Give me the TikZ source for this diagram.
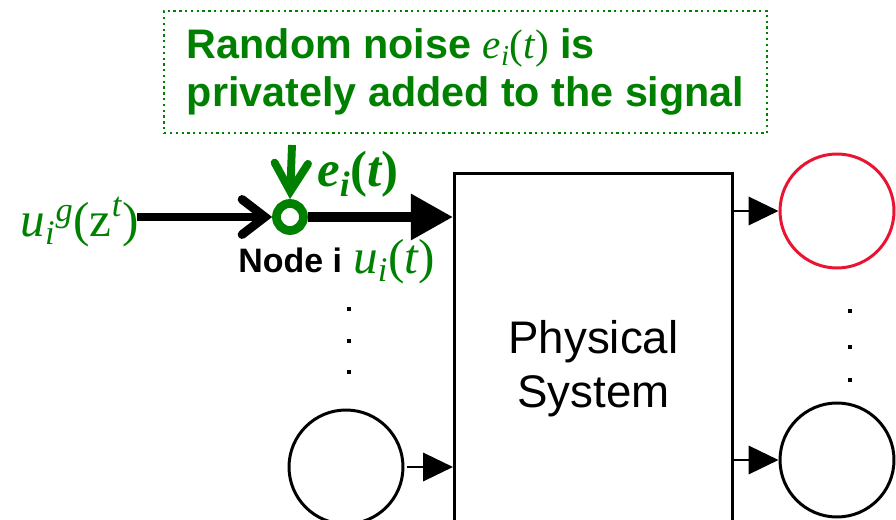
\documentclass[tikz,border=0pt]{standalone}
\usepackage{amsmath}
\usepackage{fontspec}
\setmainfont{Liberation Sans}
\newfontfamily\tms{Liberation Serif}
\usetikzlibrary{positioning,calc}
\usetikzlibrary{arrows.meta}
\definecolor{sigreen}{RGB}{0,128,0}
\definecolor{outred}{RGB}{232,20,50}
\newcommand{\tv}[1]{\text{\tms\itshape #1}}
\newcommand{\tu}[1]{\text{\tms\upshape #1}}

\begin{document}
\begin{tikzpicture}[x=0.02cm, y=-0.02cm,
  bignode/.style={draw, circle, line width=1.7pt, minimum size=2.28cm, inner sep=0pt},
  thinarrow/.style={line width=1.7pt, -{Triangle[length=17pt,width=16pt]}},
  barbarrow/.style={line width=5pt, -{Straight Barb[length=13pt,width=20pt,line cap=round]}},
  lbl/.style={inner sep=0pt, text=sigreen}]
\useasboundingbox (0,0) rectangle (896,520);
% callout
\node [draw=sigreen, dotted, line width=1.3pt, anchor=north west, minimum width=12.06cm, minimum height=2.44cm, align=left, text=sigreen, font=\fontsize{23.5}{27.5}\selectfont\bfseries] (note) at (163,10) {\raisebox{0pt}[\height][0pt]{Random noise $\tv{\mdseries e}_{\tv{\mdseries i}}\tu{\mdseries (}\tv{\mdseries t}\tu{\mdseries )}$ is}\\privately added to the signal};
% system
\node [draw, line width=1.7pt, anchor=north west, minimum width=5.56cm, minimum height=7.8cm, align=center, font=\fontsize{26}{30.6}\selectfont] (sys) at (453,172) {Physical\\System};
% nodes
\node [draw=sigreen, circle, line width=5pt, minimum size=0.54cm, inner sep=0pt] (sum) at (290,217) {};
\node [bignode] (in2) at (346,467) {};
\node [bignode, draw=outred] (out1) at (837,211) {};
\node [bignode] (out2) at (837,460) {};
\coordinate (in) at (137,217);
\coordinate (noise) at (292,145);
% labels
\node [lbl, anchor=base east, font=\fontsize{28}{30}\selectfont] (ug) at (139,237) {$\tv{u}_{\tv{i}}{}^{\tv{g}}\tu{(z}^{\tv{t}}\tu{)}$};
\node [lbl, anchor=base west, font=\fontsize{29}{30}\selectfont\bfseries] (ei) at (317,187) {$\tv{e}_{\tv{i}}\tu{(}\tv{t}\tu{)}$};
\node [inner sep=0pt, anchor=base west, font=\fontsize{19.3}{22}\selectfont\bfseries] (nodei) at (238,273) {Node i};
\node [lbl, anchor=base west, font=\fontsize{28}{30}\selectfont] (ui) at (353,274) {$\tv{u}_{\tv{i}}\tu{(}\tv{t}\tu{)}$};
% arrows
\draw [barbarrow] (in) -- (sum.west);
\draw [barbarrow, draw=sigreen, line width=4.5pt, -{Straight Barb[length=16pt,width=19pt,line cap=round]}] (noise) -- (sum.north);
\draw [line width=5.5pt, -{Triangle[length=24pt,width=25pt]}] (sum.east) -- (sum -| sys.west);
\draw [thinarrow, shorten <=1.5pt] (in2.east) -- (in2 -| sys.west);
\draw [thinarrow] (sys.east |- out1) -- (out1);
\draw [thinarrow] (sys.east |- out2) -- (out2);
% dots
\foreach \y in {309,341,372} \fill (349,\y) +(-1.2pt,-1.2pt) rectangle +(1.2pt,1.2pt);
\foreach \y in {311,347,380} \fill (850,\y) +(-1.2pt,-1.2pt) rectangle +(1.2pt,1.2pt);
\end{tikzpicture}
\end{document}
